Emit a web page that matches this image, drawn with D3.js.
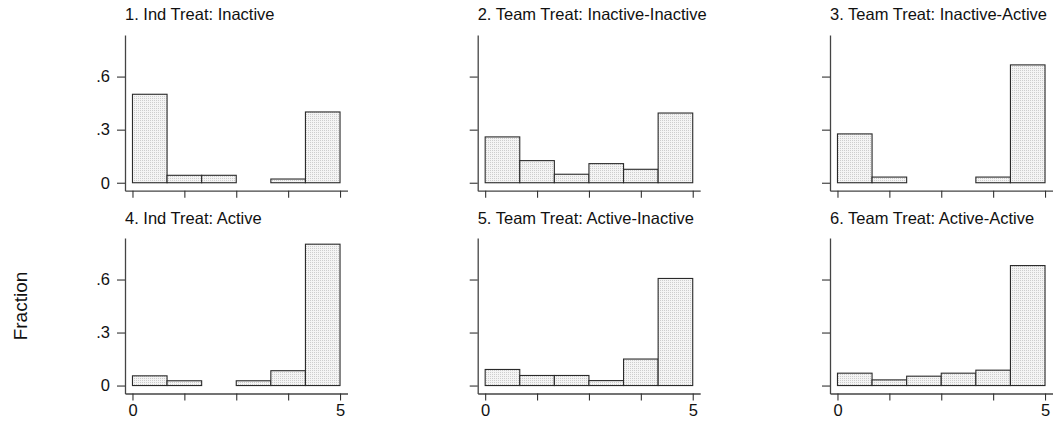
<!DOCTYPE html>
<html>
<head>
<meta charset="utf-8">
<script src="https://cdn.jsdelivr.net/npm/d3@7/dist/d3.min.js"></script>
<style>
  html, body { margin: 0; padding: 0; background: #fff; }
  svg { display: block; font-family: "Liberation Sans", Arial, sans-serif; }
</style>
</head>
<body>
<svg id="chart" width="1057" height="423"></svg>
<script>
// ---- data ----
const panelTitles = [
  "1. Ind Treat: Inactive",
  "2. Team Treat: Inactive-Inactive",
  "3. Team Treat: Inactive-Active",
  "4. Ind Treat: Active",
  "5. Team Treat: Active-Inactive",
  "6. Team Treat: Active-Active"
];
const binEdges = [0, 5/6, 10/6, 15/6, 20/6, 25/6, 5];
const fracIndInactive        = [0.500, 0.042, 0.042, 0.000, 0.021, 0.400];
const fracTeamInactInact     = [0.259, 0.125, 0.048, 0.108, 0.076, 0.394];
const fracTeamInactActive    = [0.276, 0.032, 0.000, 0.000, 0.032, 0.666];
const fracIndActive          = [0.055, 0.027, 0.000, 0.027, 0.084, 0.800];
const fracTeamActInact       = [0.091, 0.057, 0.057, 0.028, 0.150, 0.606];
const fracTeamActActive      = [0.070, 0.032, 0.053, 0.070, 0.087, 0.679];
const panelValues = [fracIndInactive, fracTeamInactInact, fracTeamInactActive,
                     fracIndActive, fracTeamActInact, fracTeamActActive];
const yTicks = [0, 0.3, 0.6];
const yTickLabels = ["0", ".3", ".6"];
const xTicks = [0, 1.25, 2.5, 3.75, 5];
const xTickLabels = {0: "0", 5: "5"};
const yLabel = "Fraction";

// ---- layout ----
const svg = d3.select("#chart");
const colX = [125, 477.7, 830];
const rowAxisY = [190.7, 393.5];
const rowTopY = [35, 238];
const axisWidth = 222.5;
const xDomain = [-0.18, 5.18];
const yDomain = [-0.045, 0.835];

const defs = svg.append("defs");
const pat = defs.append("pattern")
  .attr("id", "dots").attr("patternUnits", "userSpaceOnUse")
  .attr("width", 2).attr("height", 2);
pat.append("rect").attr("width", 2).attr("height", 2).attr("fill", "#f4f4f4");
pat.append("rect").attr("width", 1).attr("height", 1).attr("fill", "#cdcdcd");

panelValues.forEach((vals, i) => {
  const col = i % 3, row = Math.floor(i / 3);
  const x0 = colX[col];
  const x = d3.scaleLinear().domain(xDomain).range([x0, x0 + axisWidth]);
  const y = d3.scaleLinear().domain(yDomain).range([rowAxisY[row], rowTopY[row]]);
  const g = svg.append("g");

  // bars
  const bins = vals.map((v, k) => ({x0: binEdges[k], x1: binEdges[k + 1], v}));
  g.selectAll("rect.bar").data(bins.filter(d => d.v > 0)).join("rect")
    .attr("class", "bar")
    .attr("x", d => x(d.x0))
    .attr("width", d => x(d.x1) - x(d.x0))
    .attr("y", d => y(d.v))
    .attr("height", d => y(0) - y(d.v))
    .attr("fill", "url(#dots)")
    .attr("stroke", "#2a2a2a")
    .attr("stroke-width", 1.1);

  // y axis
  const yAxis = d3.axisLeft(y).tickValues(yTicks).tickSize(8).tickSizeOuter(0).tickPadding(7)
    .tickFormat((d, k) => col === 0 ? yTickLabels[k] : "");
  const ya = g.append("g").attr("transform", `translate(${x0},0)`).call(yAxis);

  // x axis
  const xAxis = d3.axisBottom(x).tickValues(xTicks).tickSize(7).tickSizeOuter(0).tickPadding(4)
    .tickFormat(d => row === 1 && xTickLabels[d] !== undefined ? xTickLabels[d] : "");
  const xa = g.append("g").attr("transform", `translate(0,${rowAxisY[row]})`).call(xAxis);

  [ya, xa].forEach(a => {
    a.selectAll("path.domain").attr("stroke", "#444").attr("stroke-width", 1.3);
    a.selectAll(".tick line").attr("stroke", "#333").attr("stroke-width", 1.1);
    a.selectAll("text").attr("font-size", 16.5).attr("fill", "#111")
      .attr("font-family", "'Liberation Sans', Arial, sans-serif");
  });

  // title
  g.append("text")
    .attr("x", x0).attr("y", row === 0 ? 20 : 224)
    .attr("font-size", 16.5).attr("fill", "#111")
    .text(panelTitles[i]);
});

svg.append("text")
  .attr("transform", "translate(27,306) rotate(-90)")
  .attr("text-anchor", "middle")
  .attr("font-size", 19).attr("fill", "#111")
  .text(yLabel);
</script>
</body>
</html>
